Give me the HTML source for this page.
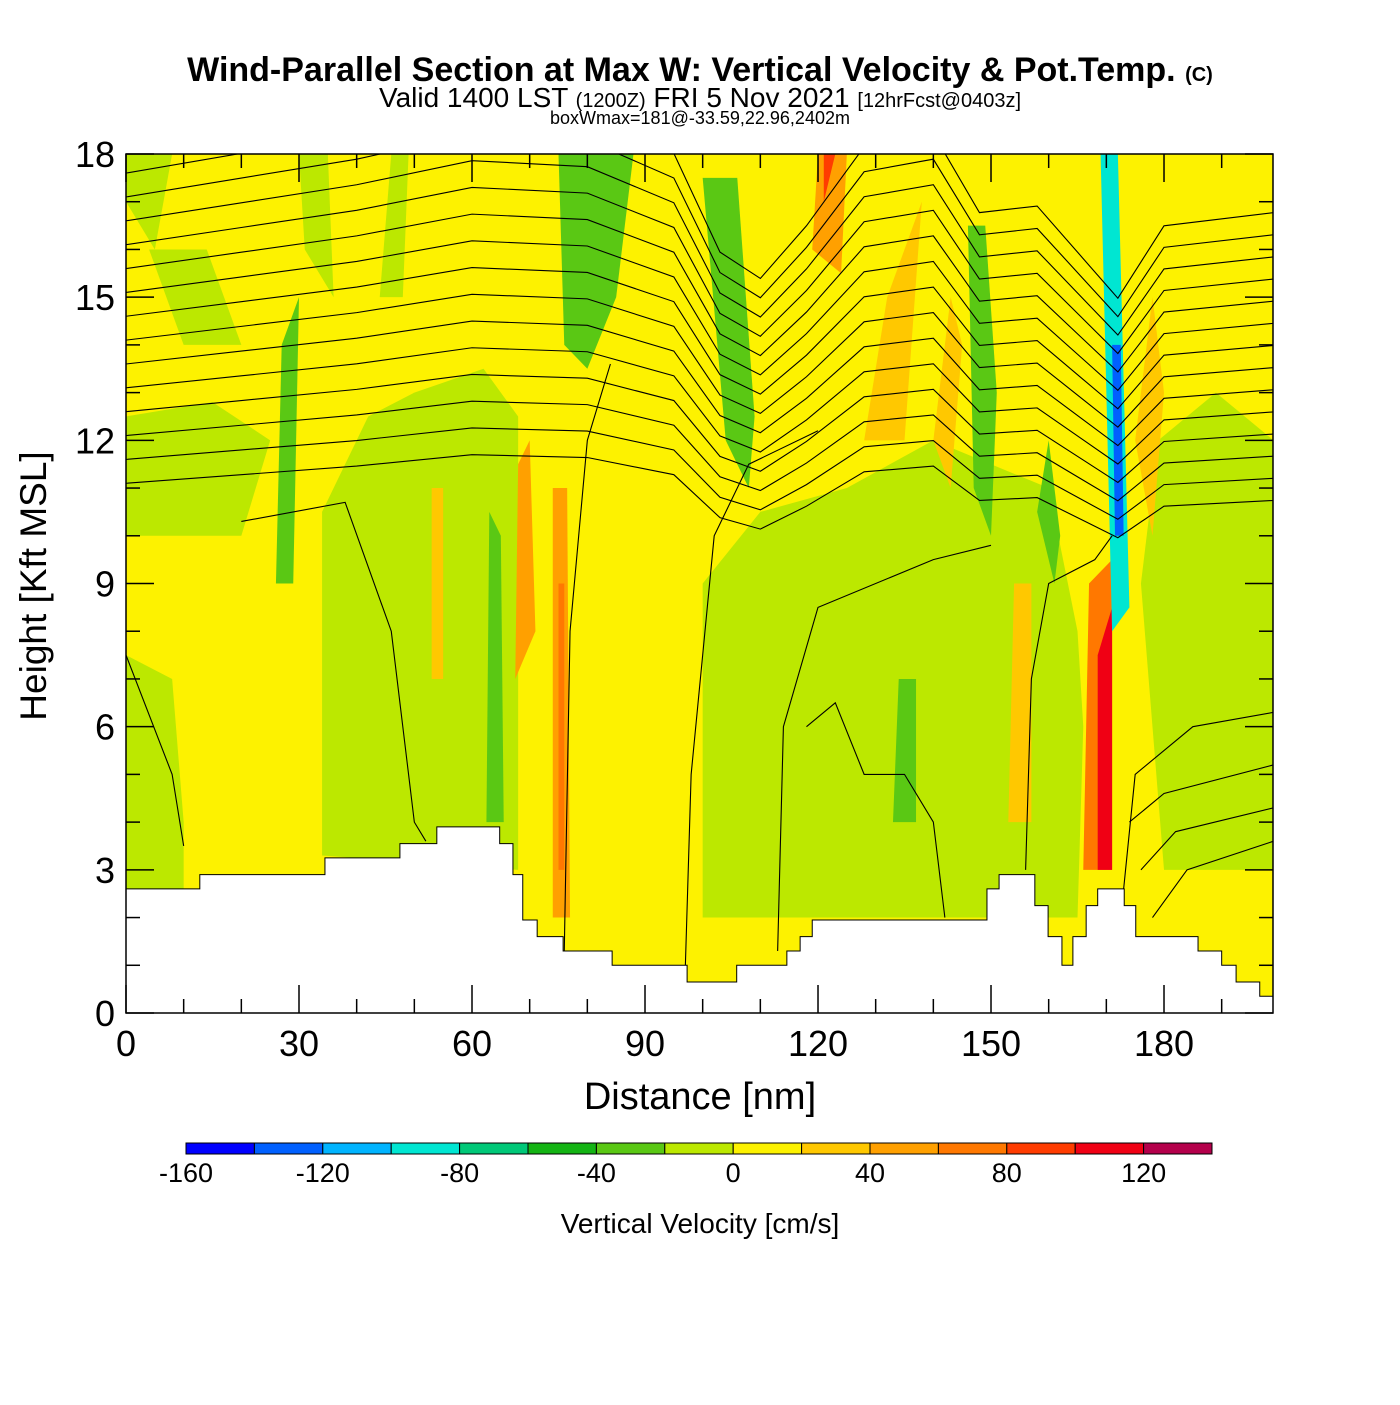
<!DOCTYPE html>
<html><head><meta charset="utf-8">
<style>
body{margin:0;background:#fff;}
svg text{font-family:"Liberation Sans",sans-serif;}
</style></head>
<body>
<svg id="chart" width="1400" height="1400" viewBox="0 0 1400 1400" xmlns="http://www.w3.org/2000/svg">
<defs><clipPath id="pc"><rect x="126" y="154" width="1147" height="859"/></clipPath></defs>
<text x="700" y="81" text-anchor="middle" font-size="34" font-weight="bold">Wind-Parallel Section at Max W: Vertical Velocity &amp; Pot.Temp. <tspan font-size="20">(C)</tspan></text>
<text x="700" y="107" text-anchor="middle" font-size="28">Valid 1400 LST <tspan font-size="20">(1200Z)</tspan> FRI 5 Nov 2021 <tspan font-size="20">[12hrFcst@0403z]</tspan></text>
<text x="700" y="124" text-anchor="middle" font-size="18">boxWmax=181@-33.59,22.96,2402m</text>
<g id="plot" clip-path="url(#pc)"></g>
<g id="axes"></g>
<g id="cbar"></g>
</svg>
<script>
const xDomain=[0,198.9], yDomain=[0,18];
const xTicks=[0,30,60,90,120,150,180];
const yTicks=[0,3,6,9,12,15,18];
const cbLevels=[-160,-140,-120,-100,-80,-60,-40,-20,0,20,40,60,80,100,120,140];
const cbColors=['#0000ff','#0060ff','#00b4ff','#00e6d2','#00c878','#14b414','#5ac814','#bce800','#fdf200','#ffc800','#ffa000','#ff7800','#ff3c00','#f00014','#b4004b'];
const cbLabels=[-160,-120,-80,-40,0,40,80,120];
const terrainX=[0,12.8,34.5,47.5,53.9,64.8,67.1,68.8,71.3,75.8,84.3,97.3,105.9,114.6,116.9,119.0,149.3,151.4,157.6,159.9,162.3,164.2,166.5,168.5,173.1,175.1,185.9,190.0,192.5,196.6];
const terrainH=[2.6,2.9,3.25,3.55,3.9,3.55,2.9,1.95,1.6,1.3,1.0,0.65,1.0,1.3,1.6,1.95,2.6,2.9,2.25,1.6,1.0,1.6,2.25,2.6,2.25,1.6,1.3,1.0,0.65,0.35];
const regionLevel=[7,7,7,7,7,6,6,6,6,6,6,10,10,11,9,10,12,9,11,13,3,1,7,6,9,9,9,7,7,7];
const regionPts=[
 [[100,2],[100,9],[110,10.5],[125,11],[140,12],[160,11],[165,8],[166,6],[165,2]],
 [[34,3.3],[34,10.5],[42,12.5],[50,13],[62,13.5],[68,12.5],[68,3]],
 [[0,2.6],[0,7.5],[8,7],[10,4],[10,2.6]],
 [[0,10],[0,12.5],[15,12.8],[25,12],[20,10]],
 [[180,3],[176,9],[179,12],[189,13],[199,12],[199,3]],
 [[62.5,4],[63,10.5],[65,10],[65.5,4]],
 [[100,17.5],[104,12],[108,11],[109,12.5],[106,17.5]],
 [[75,18],[76,14],[80,13.5],[85,15],[88,18]],
 [[146,16.5],[147,11],[150,10],[151,13],[149,16.5]],
 [[133,4],[134,7],[137,7],[137,4]],
 [[158,10.5],[160,12],[162,10],[161,9]],
 [[67.5,7],[68,11.5],[70,12],[71,8]],
 [[74,2],[74,11],[76.5,11],[77,2]],
 [[75,3],[75,9],[76,9],[76,3]],
 [[53,7],[53,11],[55,11],[55,7]],
 [[119,16],[120,18],[125,18],[124,15.5]],
 [[121,17],[121,18],[123,18]],
 [[153,4],[154,9],[157,9],[157,4]],
 [[166,3],[167,9],[171,9.5],[171,3]],
 [[168.5,3],[168.5,7.5],[171,8.5],[171,3]],
 [[169,18],[171,8],[174,8.5],[172,18]],
 [[171,14],[171.5,10],[173,10],[172.5,14]],
 [[4,16],[10,14],[20,14],[14,16]],
 [[26,9],[27,14],[30,15],[29,9]],
 [[128,12],[132,15],[138,17],[135,12]],
 [[140,12],[143,15],[145,14],[143,11]],
 [[175,12],[178,15],[180,13],[178,10]],
 [[44,15],[46,18],[49,18],[48,15]],
 [[0,18],[0,17],[5,16],[8,18]],
 [[30,18],[31,16],[36,15],[35,18]]
];
const thetaBaseX=[0,20,40,60,80,95,103,110,118,128,140,148,158,166,172,180,199];
const thetaBaseY=[0,0.3,0.6,1.0,0.9,0.3,-1.2,-1.6,-0.8,0.4,0.6,-0.6,-0.5,-1.3,-1.9,-0.8,-0.6];
const thetaOffsets=[11.1,11.6,12.1,12.6,13.1,13.6,14.1,14.6,15.1,15.6,16.1,16.6,17.1,17.6];
const vContours=[
 [[76,1.3],[77,8],[80,12],[84,13.6]],
 [[97,1.0],[98,5],[102,10],[108,11.5],[120,12.2]],
 [[113,1.3],[114,6],[120,8.5],[140,9.5],[150,9.8]],
 [[0,7.5],[8,5],[10,3.5]],
 [[20,10.3],[38,10.7],[46,8],[50,4],[52,3.6]],
 [[118,6],[123,6.5],[128,5],[135,5],[140,4],[142,2]],
 [[156,3],[157,7],[160,9],[168,9.5],[171,10]],
 [[173,2.6],[175,5],[185,6],[199,6.3]],
 [[174,4],[180,4.6],[199,5.2]],
 [[176,3],[182,3.8],[199,4.3]],
 [[178,2],[184,3],[199,3.6]]
];
const W=v=>126+(v-xDomain[0])/(xDomain[1]-xDomain[0])*(1273-126);
const H=v=>1013-(v-yDomain[0])/(yDomain[1]-yDomain[0])*(1013-154);
const NS='http://www.w3.org/2000/svg';
function mk(tag,attrs,parent){const e=document.createElementNS(NS,tag);for(const k in attrs)e.setAttribute(k,attrs[k]);parent.appendChild(e);return e;}
const plot=document.getElementById('plot');
const bg=mk('rect',{x:126,y:154,width:1147,height:859,fill:cbColors[8]},plot);


regionPts.forEach((pts,i)=>{
 const p=mk('polygon',{points:pts.map(q=>W(q[0])+','+H(q[1])).join(' '),fill:cbColors[regionLevel[i]]},plot);
 
 
});
thetaOffsets.forEach((off,j)=>{
 const pts=thetaBaseX.map((x,i)=>[W(x),H(off+thetaBaseY[i]*(0.6+j*0.06))]);
 const pl=mk('polyline',{points:pts.map(q=>q.join(',')).join(' '),fill:'none',stroke:'#000','stroke-width':1.1},plot);
 
 
});
vContours.forEach((c,j)=>{
 const pl=mk('polyline',{points:c.map(q=>W(q[0])+','+H(q[1])).join(' '),fill:'none',stroke:'#000','stroke-width':1.1},plot);
 
 
});
let d='M'+W(0)+','+H(0);
terrainX.forEach((x,i)=>{const x2=i+1<terrainX.length?terrainX[i+1]:xDomain[1];d+=' L'+W(x)+','+H(terrainH[i])+' L'+W(x2)+','+H(terrainH[i]);});
d+=' L'+W(xDomain[1])+','+H(0)+'Z';
const terr=mk('path',{d:d,fill:'#fff',stroke:'#000','stroke-width':1},plot);


const ax=document.getElementById('axes');
const frame=mk('rect',{x:126,y:154,width:1147,height:859,fill:'none',stroke:'#000','stroke-width':1.5},ax);


for(let v=0;v<=198;v+=10){const maj=v%30===0,L=maj?28:14;
 mk('line',{x1:W(v),x2:W(v),y1:1013,y2:1013-L,stroke:'#000','stroke-width':1.5},ax);
 mk('line',{x1:W(v),x2:W(v),y1:154,y2:154+L,stroke:'#000','stroke-width':1.5},ax);}
for(let v=0;v<=18;v+=1){const maj=v%3===0,L=maj?28:14;
 mk('line',{x1:126,x2:126+L,y1:H(v),y2:H(v),stroke:'#000','stroke-width':1.5},ax);
 mk('line',{x1:1273,x2:1273-L,y1:H(v),y2:H(v),stroke:'#000','stroke-width':1.5},ax);}
xTicks.forEach(v=>{const t=mk('text',{x:W(v),y:1056,'text-anchor':'middle','font-size':36},ax);t.textContent=v;
 
 });
yTicks.forEach(v=>{const t=mk('text',{x:115,y:H(v)+13,'text-anchor':'end','font-size':36},ax);t.textContent=v;
 
 });
const xt=mk('text',{x:700,y:1109,'text-anchor':'middle','font-size':38},ax);xt.textContent='Distance [nm]';


const yt=mk('text',{x:0,y:0,'text-anchor':'middle','font-size':37,transform:'translate(46,586) rotate(-90)'},ax);yt.textContent='Height [Kft MSL]';


const cb=document.getElementById('cbar');
const cbX=v=>186+(v-cbLevels[0])/(cbLevels[cbLevels.length-1]-cbLevels[0])*(1212-186);
cbColors.forEach((c,i)=>{const r=mk('rect',{x:cbX(cbLevels[i]),y:1143,width:cbX(cbLevels[i+1])-cbX(cbLevels[i]),height:11,fill:c,stroke:'#000','stroke-width':1},cb);
 
 });
cbLabels.forEach(v=>{const t=mk('text',{x:cbX(v),y:1182,'text-anchor':'middle','font-size':27},cb);t.textContent=v;
 
 });
const ct=mk('text',{x:700,y:1233,'text-anchor':'middle','font-size':28},cb);ct.textContent='Vertical Velocity [cm/s]';


</script>
</body></html>
